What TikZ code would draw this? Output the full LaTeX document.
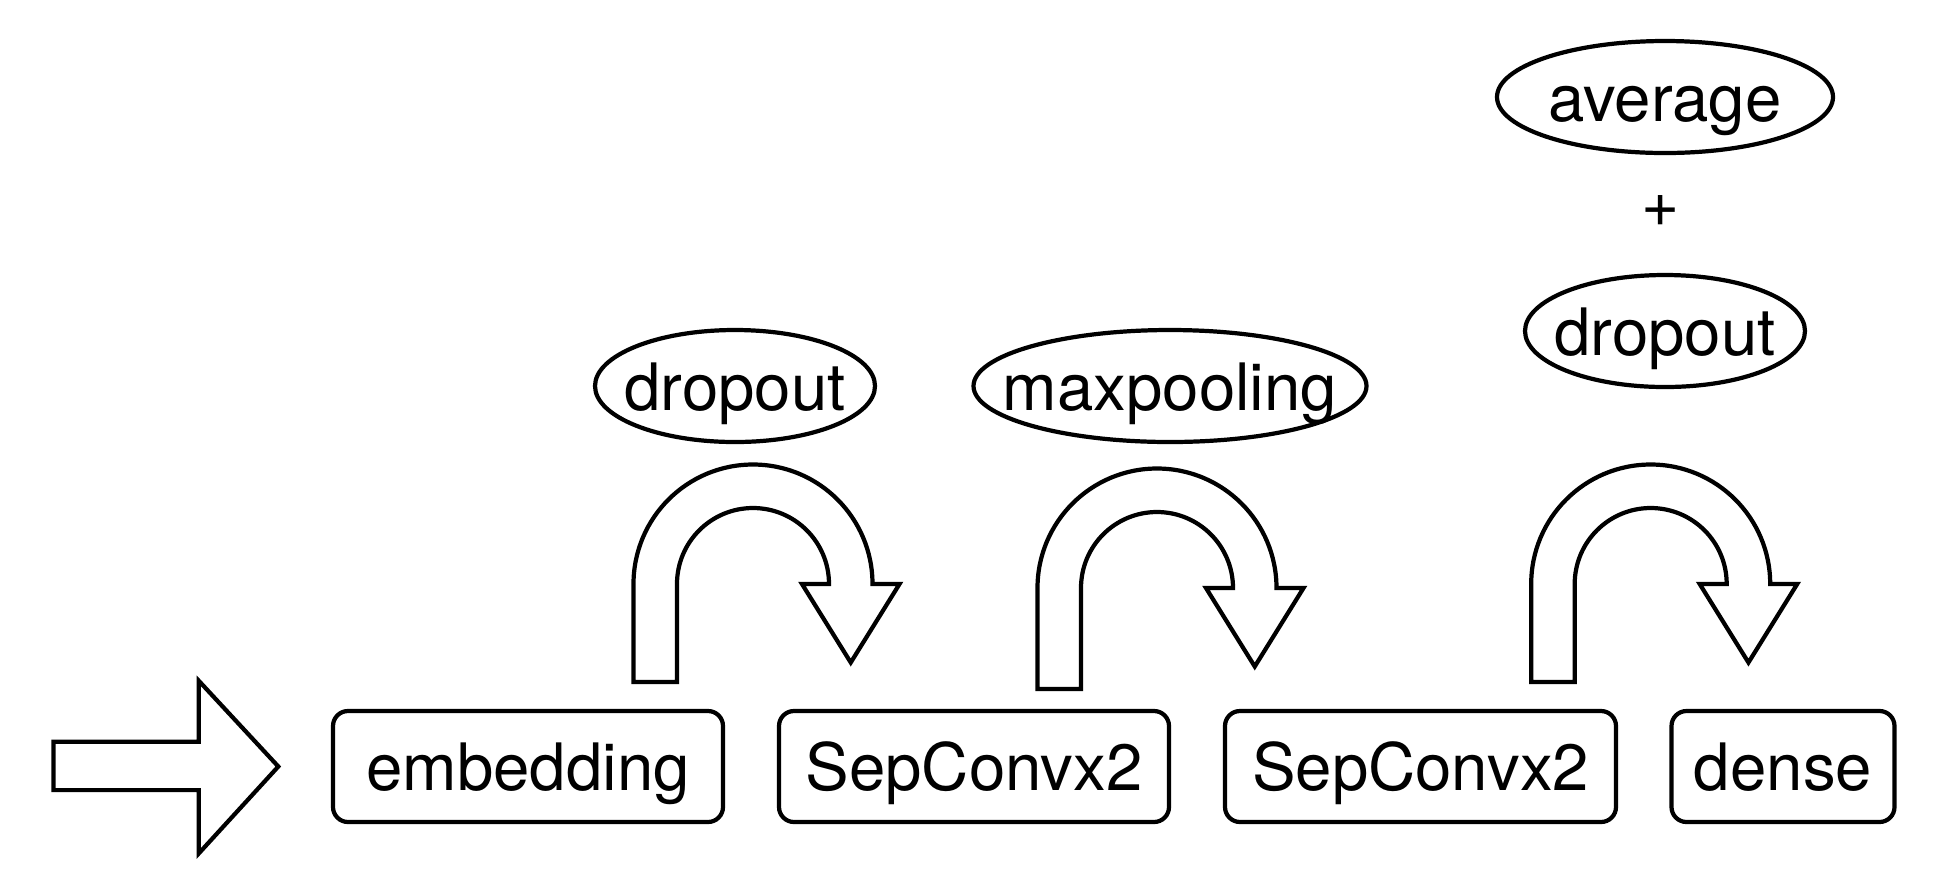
\documentclass[tikz,border=0pt]{standalone}
\usepackage{fontspec}
\setmainfont{TeX Gyre Heros}
\usepackage{tikz}

\tikzset{
    layer/.style={draw, line width=1.2pt, rounded corners=0.15cm, inner sep=0pt,
        minimum height=1.11cm, text height=0.48cm, text depth=0pt},
    op/.style={inner sep=0pt, text height=0.48cm, text depth=0pt},
    fatarrow/.style={draw, line width=1.2pt, line join=miter}
}

% U-shaped arrow: centre x, centre y, bottom of shaft
\newcommand{\uturnarrow}[3]{%
    \draw[fatarrow] ({#1-1.195},#3) -- ({#1-1.195},#2)
        arc[start angle=180, end angle=0, radius=1.195] -- ++(0.27,0)
        -- ({#1+0.9775},{#2-0.785}) -- ({#1+0.49},#2) -- ({#1+0.76},#2)
        arc[start angle=0, end angle=180, radius=0.76] -- ({#1-0.76},#3) -- cycle;
}

\begin{document}
\begin{tikzpicture}[font=\fontsize{18.6}{22}\selectfont]
    \useasboundingbox (0,0) rectangle (19.48,-8.68);

    % Input arrow
    \draw[fatarrow] (0.534,-7.417) -- (1.988,-7.417) -- (1.988,-6.808) -- (2.783,-7.665)
        -- (1.988,-8.534) -- (1.988,-7.901) -- (0.534,-7.901) -- cycle;

    % Layers
    \node[layer, minimum width=3.90cm] (embed) at (5.28,-7.665) {embedding};
    \node[layer, minimum width=3.90cm] (sepconvA) at (9.74,-7.665) {SepConvx2};
    \node[layer, minimum width=3.91cm] (sepconvB) at (14.205,-7.665) {SepConvx2};
    \node[layer, minimum width=2.23cm] (dense) at (17.83,-7.665) {dense};

    % Operations between layers
    \node[op] (dropA) at (7.35,-3.86) {dropout};
    \node[op] (maxpool) at (11.70,-3.86) {maxpooling};
    \node[op] (avg) at (16.65,-0.97) {average};
    \node[inner sep=0pt] (plus) at (16.61,-2.11) {+};
    \node[op] (dropB) at (16.65,-3.31) {dropout};
    \foreach \n/\rx in {dropA/1.40, maxpool/1.965, avg/1.68, dropB/1.40}
        \draw[line width=1.2pt] (\n.center) ellipse[x radius=\rx, y radius=0.56];

    % U-turn arrows
    \uturnarrow{7.53}{-5.84}{-6.82}
    \uturnarrow{11.57}{-5.88}{-6.89}
    \uturnarrow{16.507}{-5.84}{-6.82}
\end{tikzpicture}
\end{document}
